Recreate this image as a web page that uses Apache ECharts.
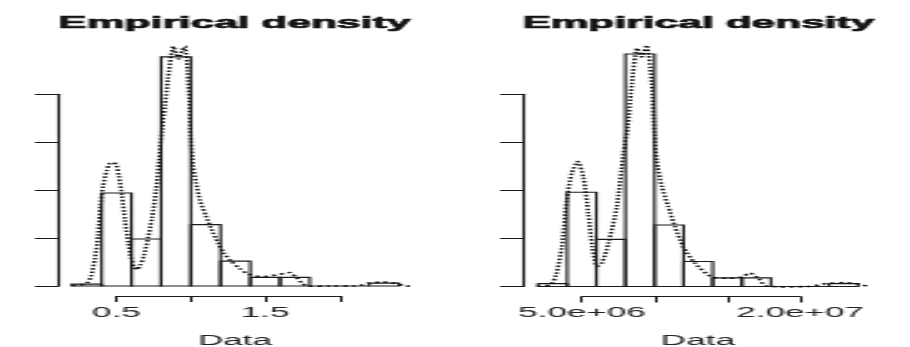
<!DOCTYPE html>
<html>
<head>
<meta charset="utf-8">
<script src="https://cdn.jsdelivr.net/npm/echarts@6/dist/echarts.min.js"></script>
<style>
html, body { margin: 0; padding: 0; background: #fff; overflow: hidden; width: 910px; height: 347px; }
#chart { width: 364px; height: 347px; transform: scaleX(2.5); transform-origin: 0 0; }
</style>
</head>
<body>
<div id="chart"></div>
<script>
// ---------- data ----------
const titleText = 'Empirical density';
const xAxisName = 'Data';

// left panel (original scale)
const leftBinEdges = [0.2, 0.4, 0.6, 0.8, 1.0, 1.2, 1.4, 1.6, 1.8, 2.0, 2.2, 2.4];
const leftDensity  = [0.02, 0.97, 0.49, 2.39, 0.64, 0.26, 0.09, 0.09, 0, 0, 0.03];
const leftCurveX = [0.199, 0.254, 0.30, 0.328, 0.355, 0.376, 0.392, 0.409, 0.434, 0.456, 0.478, 0.50, 0.516, 0.537, 0.557, 0.579, 0.598, 0.618, 0.638, 0.658, 0.685, 0.712, 0.739, 0.766, 0.786, 0.806, 0.826, 0.846, 0.867, 0.882, 0.90, 0.92, 0.94, 0.961, 0.978, 0.991, 1.001, 1.015, 1.035, 1.062, 1.102, 1.142, 1.183, 1.223, 1.277, 1.330, 1.384, 1.438, 1.492, 1.546, 1.586, 1.627, 1.667, 1.714, 1.748, 1.781, 1.936, 2.104, 2.151, 2.19, 2.237, 2.284, 2.338, 2.392, 2.44, 2.474];
const leftCurveY = [0.005, 0.01, 0.03, 0.10, 0.29, 0.53, 0.84, 1.04, 1.20, 1.28, 1.29, 1.26, 1.15, 0.94, 0.69, 0.45, 0.29, 0.20, 0.17, 0.21, 0.32, 0.50, 0.71, 1.00, 1.31, 1.62, 1.88, 2.16, 2.40, 2.50, 2.43, 2.37, 2.45, 2.50, 2.24, 1.93, 1.52, 1.26, 1.08, 0.89, 0.73, 0.58, 0.45, 0.34, 0.25, 0.18, 0.125, 0.104, 0.099, 0.109, 0.119, 0.130, 0.14, 0.083, 0.031, 0, 0, 0, 0.01, 0.028, 0.036, 0.042, 0.036, 0.021, 0, 0];
const leftXTicks = [0.5, 1.0, 1.5, 2.0];
const leftXTickLabels = ['0.5', '', '1.5', ''];
const leftYTicks = [0, 0.5, 1.0, 1.5, 2.0];

// right panel (scaled data)
const rightBinEdges = [2e6, 4e6, 6e6, 8e6, 10e6, 12e6, 14e6, 16e6, 18e6, 20e6, 22e6, 24e6];
const rightDensity  = [0.03e-7, 0.98e-7, 0.49e-7, 2.42e-7, 0.64e-7, 0.26e-7, 0.09e-7, 0.09e-7, 0, 0, 0.03e-7];
const rightCurveX = [1.91e6, 2.82e6, 3.23e6, 3.63e6, 3.97e6, 4.31e6, 4.73e6, 5.11e6, 5.45e6, 5.73e6, 6.03e6, 6.37e6, 6.83e6, 7.41e6, 7.86e6, 8.16e6, 8.44e6, 8.78e6, 9.12e6, 9.47e6, 9.81e6, 9.99e6, 10.15e6, 10.5e6, 10.95e6, 11.41e6, 11.98e6, 12.79e6, 13.93e6, 15.08e6, 16.0e6, 16.57e6, 17.14e6, 17.71e6, 20.57e6, 21.26e6, 21.95e6, 23.1e6, 24.0e6, 24.7e6];
const rightCurveY = [0.005e-7, 0.016e-7, 0.12e-7, 0.41e-7, 0.90e-7, 1.18e-7, 1.30e-7, 1.14e-7, 0.76e-7, 0.41e-7, 0.21e-7, 0.24e-7, 0.45e-7, 0.83e-7, 1.38e-7, 1.66e-7, 2.11e-7, 2.48e-7, 2.39e-7, 2.51e-7, 2.11e-7, 1.59e-7, 1.31e-7, 1.04e-7, 0.83e-7, 0.62e-7, 0.41e-7, 0.24e-7, 0.10e-7, 0.085e-7, 0.10e-7, 0.14e-7, 0.085e-7, 0.005e-7, 0, 0.016e-7, 0.033e-7, 0.04e-7, 0.026e-7, 0];
const rightXTicks = [5e6, 1e7, 1.5e7, 2e7];
const rightXTickLabels = ['5.0e+06', '', '', '2.0e+07'];
const rightYTicks = [0, 0.5e-7, 1.0e-7, 1.5e-7, 2.0e-7];

// ---------- chart ----------
const FONT = '"Liberation Sans", Arial, Helvetica, sans-serif';
const INK = '#1a1a1a';

function binsData(edges, dens) {
  return dens.map((d, i) => [edges[i], edges[i + 1], d]);
}
function curveData(xs, ys) {
  return xs.map((x, i) => [x, ys[i]]);
}
function labelFor(ticks, labels) {
  return function (v) {
    for (let i = 0; i < ticks.length; i++) {
      if (Math.abs(ticks[i] - v) <= Math.abs(ticks[i]) * 1e-6 + 1e-12) return labels[i];
    }
    return '';
  };
}
function renderBin(params, api) {
  const p0 = api.coord([api.value(0), api.value(2)]);
  const p1 = api.coord([api.value(1), 0]);
  return {
    type: 'rect',
    shape: { x: p0[0], y: p0[1], width: p1[0] - p0[0], height: p1[1] - p0[1] },
    style: { fill: 'none', stroke: INK, lineWidth: 1.1 }
  };
}
function xAxisFor(gridIndex, ticks, labels) {
  return {
    type: 'value', gridIndex: gridIndex,
    min: ticks[0], max: ticks[ticks.length - 1], interval: ticks[1] - ticks[0],
    offset: 10,
    axisLine: { show: true, onZero: false, lineStyle: { color: INK, width: 1 } },
    axisTick: { show: true, length: 6, lineStyle: { color: INK, width: 1 } },
    axisLabel: { show: true, margin: 10, fontSize: 14, fontFamily: FONT, color: '#222',
                 showMinLabel: true, showMaxLabel: true, formatter: labelFor(ticks, labels) },
    splitLine: { show: false },
    name: xAxisName, nameLocation: 'middle', nameGap: 38,
    nameTextStyle: { fontSize: 14, fontFamily: FONT, color: '#222', padding: [0, 0, 0, 5.6] }
  };
}
function yAxisFor(gridIndex, ticks) {
  return {
    type: 'value', gridIndex: gridIndex,
    min: ticks[0], max: ticks[ticks.length - 1], interval: ticks[1] - ticks[0],
    offset: 23,
    axisLine: { show: true, onZero: false, lineStyle: { color: INK, width: 1.1 } },
    axisTick: { show: true, length: 9.7, lineStyle: { color: INK, width: 1 } },
    axisLabel: { show: false },
    splitLine: { show: false }
  };
}
function curveSeries(idx, xs, ys) {
  return {
    type: 'custom', xAxisIndex: idx, yAxisIndex: idx,
    data: curveData(xs, ys), encode: { x: 0, y: 1 },
    clip: false, silent: true, z: 3,
    renderItem: function (params, api) {
      if (params.dataIndex !== 0) return null;
      const pts = xs.map((x, i) => api.coord([x, ys[i]]));
      return {
        type: 'polyline',
        shape: { points: pts, smooth: 0.25 },
        style: { fill: null, stroke: '#111', lineWidth: 1.6, lineDash: [1.6, 1.8] }
      };
    }
  };
}
function histSeries(idx, edges, dens) {
  return {
    type: 'custom', xAxisIndex: idx, yAxisIndex: idx,
    data: binsData(edges, dens), renderItem: renderBin,
    encode: { x: [0, 1], y: 2 }, clip: false, silent: true, z: 2
  };
}

const titleStyle = { fontFamily: FONT, fontWeight: 'bold', fontSize: 17, color: '#111',
                     textBorderColor: '#111', textBorderWidth: 0.7 };

const chart = echarts.init(document.getElementById('chart'), null, { renderer: 'canvas' });
chart.setOption({
  animation: false,
  backgroundColor: '#ffffff',
  title: [
    { text: titleText, left: 93.7, top: 15, textAlign: 'center', padding: 0, textStyle: titleStyle },
    { text: titleText, left: 279.3, top: 15, textAlign: 'center', padding: 0, textStyle: titleStyle }
  ],
  grid: [
    { left: 46.6, right: 228.2, top: 94.3, bottom: 61, containLabel: false, outerBoundsMode: 'none' },
    { left: 232.7, right: 44, top: 94.3, bottom: 60.5, containLabel: false, outerBoundsMode: 'none' }
  ],
  xAxis: [ xAxisFor(0, leftXTicks, leftXTickLabels), xAxisFor(1, rightXTicks, rightXTickLabels) ],
  yAxis: [ yAxisFor(0, leftYTicks), yAxisFor(1, rightYTicks) ],
  series: [
    histSeries(0, leftBinEdges, leftDensity),
    curveSeries(0, leftCurveX, leftCurveY),
    histSeries(1, rightBinEdges, rightDensity),
    curveSeries(1, rightCurveX, rightCurveY)
  ]
});
</script>
</body>
</html>
